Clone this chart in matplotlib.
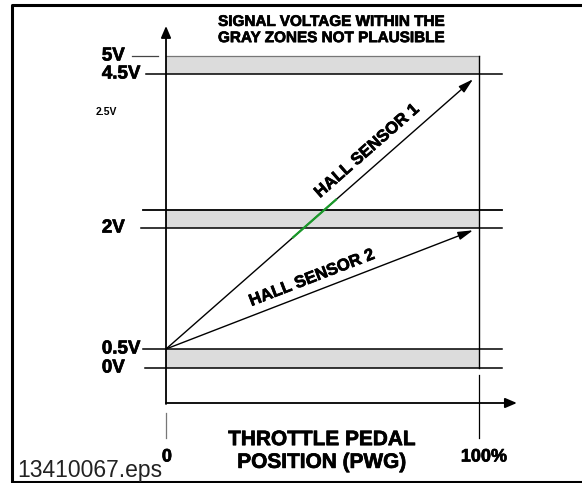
import numpy as np
import matplotlib
matplotlib.use('Agg')
import matplotlib.pyplot as plt
import matplotlib.patheffects as pe

# schematic diagram: x = pedal position in %, y = diagram height (not to scale in volts)
level_labels = ['5V', '4.5V', '2V', '0.5V', '0V']
level_h = [312, 294, 140, 19, 0]
zone_bottoms = [294, 140, 0]
zone_tops = [312, 158, 19]
sensor_names = ['HALL SENSOR 1', 'HALL SENSOR 2']
sensor_start = [19, 19]      # 0.5V at 0 %
sensor_end = [294, 140]      # 4.5V and 2V at 100 %
pedal_ticks = ['0', '100%']

plt.rcParams['font.family'] = ['Liberation Sans', 'DejaVu Sans']
heavy = [pe.withStroke(linewidth=0.5, foreground='black')]

fig = plt.figure(figsize=(5.82, 4.83), dpi=100)
ax = fig.add_axes([0, 0, 1, 1])
ax.set_xlim(-53.04, 132.91)
ax.set_ylim(-115, 368)
ax.axis('off')

# frame (left, top, bottom)
ax.plot([134, -49.2, -49.2, 134], [363.5, 363.5, -113.5, -113.5], color='black', lw=2.2, clip_on=False)

# gray zones
for b, t in zip(zone_bottoms, zone_tops):
    ax.fill_between([0, 100], b, t, color='#dcdcdc', lw=0, zorder=1)

# level lines
ax.plot([-10.9, -2.6], [312, 312], color='#444444', lw=0.9)
ax.plot([0, 100], [312, 312], color='#777777', lw=0.9)
left_start = [None, -6.4, -8.0, -7.3, -6.7]
for lab, h, x0 in zip(level_labels, level_h, left_start):
    if x0 is None:
        continue
    ax.plot([x0, 107.3], [h, h], color='black', lw=1.1, zorder=3)
ax.plot([-7.3, 107.3], [158, 158], color='black', lw=1.3, zorder=3)

# right edge of the zones + tick
ax.plot([100, 100], [312, 0], color='black', lw=1.0, zorder=3)
ax.plot([100, 100], [-7, -70], color='black', lw=0.9)
ax.plot([0, 0], [-45, -70], color='#777777', lw=0.9)

# axes arrows
ax.annotate('', xy=(0, 342), xytext=(0, -36),
            arrowprops=dict(arrowstyle='-|>,head_length=0.7,head_width=0.3', color='black', lw=1.3,
                            shrinkA=0, shrinkB=0))
ax.annotate('', xy=(112.1, -35), xytext=(0, -35),
            arrowprops=dict(arrowstyle='-|>,head_length=0.7,head_width=0.3', color='black', lw=1.3,
                            shrinkA=0, shrinkB=0))

# sensor lines
for y0, y1 in zip(sensor_start, sensor_end):
    xs = np.array([0, 98.1])
    ys = y0 + (y1 - y0) * xs / 100
    ax.annotate('', xy=(xs[1], ys[1]), xytext=(xs[0], ys[0]),
                arrowprops=dict(arrowstyle='-|>,head_length=0.9,head_width=0.25', color='black', lw=1.0,
                                shrinkA=0, shrinkB=0), zorder=4)

# green part of sensor 1 inside the middle zone
gx = np.array([40.6, 54.3])
gy = sensor_start[0] + (sensor_end[0] - sensor_start[0]) * gx / 100
ax.plot(gx, gy, color='#1a9a2a', lw=1.6, zorder=5)

ax.text(64.2, 217, sensor_names[0], rotation=41.3, ha='center', va='center',
        fontsize=12, fontweight='bold', rotation_mode='anchor', path_effects=heavy)
ax.text(46.6, 90, sensor_names[1], rotation=21.1, ha='center', va='center',
        fontsize=12, fontweight='bold', rotation_mode='anchor', path_effects=heavy)

# level labels
for lab, h in zip(level_labels, level_h):
    ax.text(-20.5, h, lab, ha='left', va='center', fontsize=13.5, fontweight='bold', path_effects=heavy)
ax.text(-22.4, 256, '2.5V', ha='left', va='center', fontsize=7.5, fontweight='bold')

# title / axis labels
ax.text(52.7, 338, 'SIGNAL VOLTAGE WITHIN THE\nGRAY ZONES NOT PLAUSIBLE', ha='center', va='center',
        fontsize=11, fontweight='bold', linespacing=1.2, path_effects=heavy)
ax.text(49.8, -83, 'THROTTLE PEDAL\nPOSITION (PWG)', ha='center', va='center',
        fontsize=15, fontweight='bold', linespacing=1.25, path_effects=heavy)
ax.text(0.3, -89, pedal_ticks[0], ha='center', va='center', fontsize=13, fontweight='bold', path_effects=heavy)
ax.text(101.6, -89, pedal_ticks[1], ha='center', va='center', fontsize=13, fontweight='bold', path_effects=heavy)
ax.text(-47.6, -103, '13410067.eps', ha='left', va='center', fontsize=16.5, color='#222222')

fig.savefig('out.png', dpi=100)
